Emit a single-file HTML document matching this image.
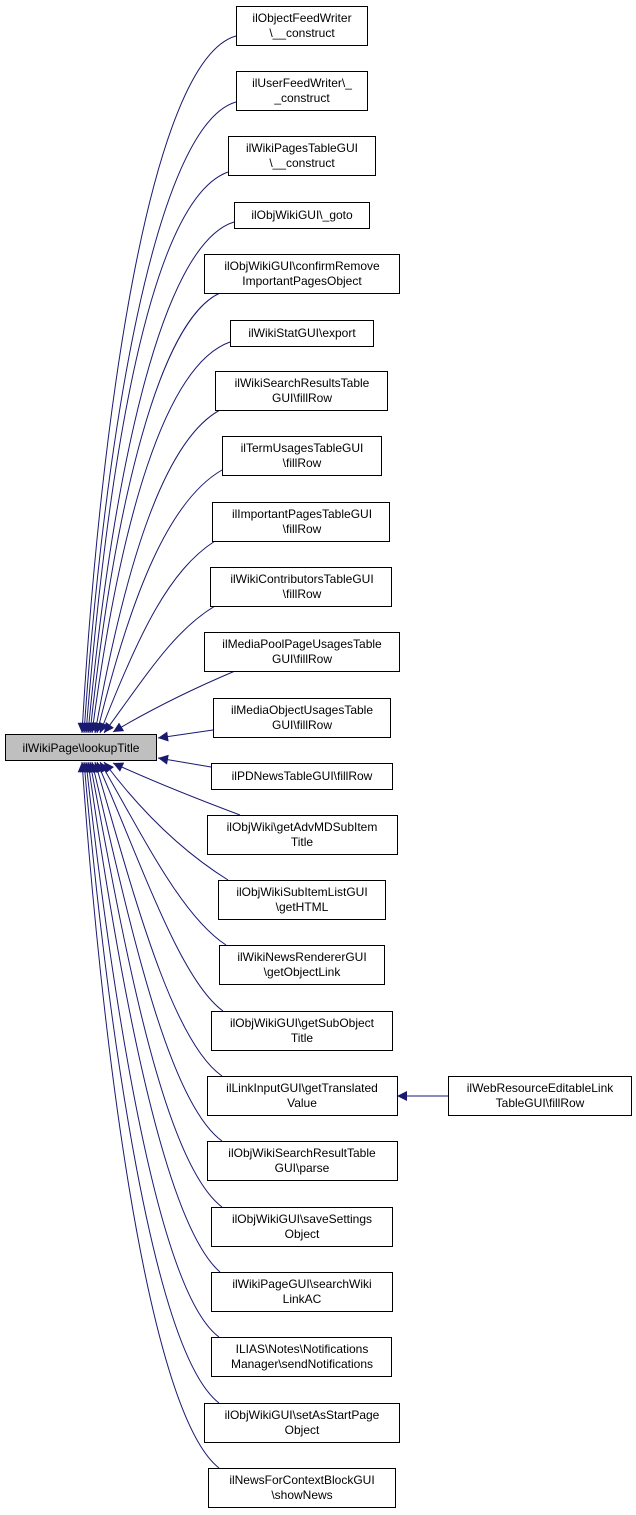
<!DOCTYPE html>
<html><head><meta charset="utf-8"><style>
html,body{margin:0;padding:0;background:#fff;}
svg{display:block;}
text{font-family:"Liberation Sans",Helvetica,Arial,sans-serif;font-size:12px;fill:#000;}
</style></head><body>
<svg width="636" height="1515" viewBox="0 0 636 1515" xmlns="http://www.w3.org/2000/svg">
<defs>
<marker id="a" viewBox="0 0 10 10" refX="10" refY="5" markerWidth="11" markerHeight="10" markerUnits="userSpaceOnUse" orient="auto">
<path d="M0,0 L10,5 L0,10 z" fill="#191970"/>
</marker>
</defs>
<g fill="none" stroke="#191970" stroke-width="1" marker-end="url(#a)">
<path d="M236,36 C150,60 100,420 82,733"/>
<path d="M236,102 C155,125 104,440 84,733"/>
<path d="M228,172 C150,200 108,460 86,733"/>
<path d="M234,222 C160,245 112,480 88,733"/>
<path d="M220,293 C160,320 115,500 90,733"/>
<path d="M230,342 C165,365 120,520 92,733"/>
<path d="M220,410 C165,440 126,560 95,733"/>
<path d="M222,470 C170,500 132,590 97,733"/>
<path d="M215,541 C170,570 140,630 100,733"/>
<path d="M215,606 C175,630 150,670 104,733"/>
<path d="M235,671 C190,690 150,710 113,732"/>
<path d="M213,730 L158,738"/>
<path d="M211,767 L158,758"/>
<path d="M240,815 C200,800 150,780 113,763"/>
<path d="M228,880 C180,850 140,810 104,762"/>
<path d="M226,945 C180,915 140,830 100,762"/>
<path d="M223,1011 C180,980 140,860 97,762"/>
<path d="M222,1076 C170,1040 130,880 95,762"/>
<path d="M222,1141 C165,1100 125,900 92,762"/>
<path d="M222,1207 C160,1160 120,920 90,762"/>
<path d="M220,1272 C160,1220 115,950 88,762"/>
<path d="M219,1337 C155,1290 110,980 86,762"/>
<path d="M219,1403 C150,1350 105,1000 84,762"/>
<path d="M219,1468 C145,1410 100,1020 82,762"/>
<path d="M448,1096 L397,1096"/>
</g>
<g fill="#fff" stroke="#000" stroke-width="1">
<rect x="5.5" y="734.5" width="151" height="26" fill="#bfbfbf"/>
<rect x="236.5" y="6.5" width="131" height="39"/>
<rect x="236.5" y="71.5" width="131" height="39"/>
<rect x="228.5" y="136.5" width="147" height="39"/>
<rect x="234.5" y="202.5" width="135" height="26"/>
<rect x="204.5" y="254.5" width="195" height="39"/>
<rect x="230.5" y="320.5" width="143" height="26"/>
<rect x="215.5" y="371.5" width="172" height="39"/>
<rect x="222.5" y="436.5" width="159" height="39"/>
<rect x="212.5" y="502.5" width="177" height="39"/>
<rect x="210.5" y="567.5" width="181" height="39"/>
<rect x="204.5" y="632.5" width="195" height="39"/>
<rect x="213.5" y="698.5" width="177" height="39"/>
<rect x="211.5" y="763.5" width="181" height="26"/>
<rect x="207.5" y="815.5" width="190" height="39"/>
<rect x="218.5" y="880.5" width="167" height="39"/>
<rect x="219.5" y="945.5" width="165" height="39"/>
<rect x="211.5" y="1011.5" width="181" height="39"/>
<rect x="207.5" y="1076.5" width="190" height="39"/>
<rect x="207.5" y="1141.5" width="190" height="39"/>
<rect x="211.5" y="1207.5" width="181" height="39"/>
<rect x="211.5" y="1272.5" width="181" height="39"/>
<rect x="211.5" y="1337.5" width="180" height="39"/>
<rect x="204.5" y="1403.5" width="195" height="39"/>
<rect x="208.5" y="1468.5" width="187" height="39"/>
<rect x="448.5" y="1076.5" width="183" height="39"/>
</g>
<g text-anchor="middle">
<text x="81" y="752">ilWikiPage\lookupTitle</text>
<text x="302" y="22">ilObjectFeedWriter</text><text x="302" y="37">\__construct</text>
<text x="302" y="87">ilUserFeedWriter\_</text><text x="302" y="102">_construct</text>
<text x="302" y="152">ilWikiPagesTableGUI</text><text x="302" y="167">\__construct</text>
<text x="302" y="219">ilObjWikiGUI\_goto</text>
<text x="302" y="270">ilObjWikiGUI\confirmRemove</text><text x="302" y="285">ImportantPagesObject</text>
<text x="302" y="337">ilWikiStatGUI\export</text>
<text x="302" y="387">ilWikiSearchResultsTable</text><text x="302" y="402">GUI\fillRow</text>
<text x="302" y="452">ilTermUsagesTableGUI</text><text x="302" y="467">\fillRow</text>
<text x="302" y="518">ilImportantPagesTableGUI</text><text x="302" y="533">\fillRow</text>
<text x="302" y="583">ilWikiContributorsTableGUI</text><text x="302" y="598">\fillRow</text>
<text x="302" y="648">ilMediaPoolPageUsagesTable</text><text x="302" y="663">GUI\fillRow</text>
<text x="302" y="714">ilMediaObjectUsagesTable</text><text x="302" y="729">GUI\fillRow</text>
<text x="302" y="780">ilPDNewsTableGUI\fillRow</text>
<text x="302" y="831">ilObjWiki\getAdvMDSubItem</text><text x="302" y="846">Title</text>
<text x="302" y="896">ilObjWikiSubItemListGUI</text><text x="302" y="911">\getHTML</text>
<text x="302" y="961">ilWikiNewsRendererGUI</text><text x="302" y="976">\getObjectLink</text>
<text x="302" y="1027">ilObjWikiGUI\getSubObject</text><text x="302" y="1042">Title</text>
<text x="302" y="1092">ilLinkInputGUI\getTranslated</text><text x="302" y="1107">Value</text>
<text x="302" y="1157">ilObjWikiSearchResultTable</text><text x="302" y="1172">GUI\parse</text>
<text x="302" y="1223">ilObjWikiGUI\saveSettings</text><text x="302" y="1238">Object</text>
<text x="302" y="1288">ilWikiPageGUI\searchWiki</text><text x="302" y="1303">LinkAC</text>
<text x="302" y="1353">ILIAS\Notes\Notifications</text><text x="302" y="1368">Manager\sendNotifications</text>
<text x="302" y="1419">ilObjWikiGUI\setAsStartPage</text><text x="302" y="1434">Object</text>
<text x="302" y="1484">ilNewsForContextBlockGUI</text><text x="302" y="1499">\showNews</text>
<text x="540" y="1092">ilWebResourceEditableLink</text><text x="540" y="1107">TableGUI\fillRow</text>
</g>
</svg>
</body></html>
